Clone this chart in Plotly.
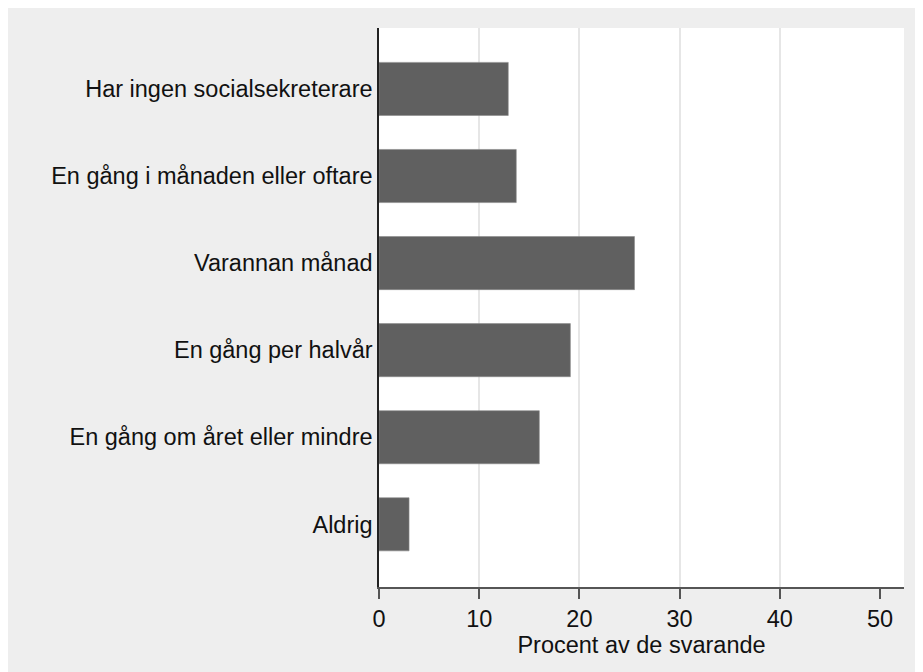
import plotly.graph_objects as go

categories = [
    "Har ingen socialsekreterare",
    "En gång i månaden eller oftare",
    "Varannan månad",
    "En gång per halvår",
    "En gång om året eller mindre",
    "Aldrig",
]
values = [12.9, 13.7, 25.5, 19.1, 16.0, 3.0]
x_ticks = [0, 10, 20, 30, 40, 50]
grid_vals = [10, 20, 30, 40]
x_title = "Procent av de svarande"

FONT = "Liberation Sans, Arial, sans-serif"
FS = 23.5

fig = go.Figure()
fig.add_trace(go.Bar(
    y=categories,
    x=values,
    orientation="h",
    width=0.61,
    marker=dict(color="#606060", line=dict(color="#8a8a8a", width=0.6)),
    hoverinfo="x+y",
))

fig.update_layout(
    width=923,
    height=672,
    paper_bgcolor="#eeeeee",
    plot_bgcolor="white",
    margin=dict(l=371, r=27, t=20, b=93),
    showlegend=False,
    font=dict(family=FONT, size=FS, color="#111111"),
)

fig.update_xaxes(
    range=[0, 52.4],
    tickvals=x_ticks,
    ticktext=[str(v) for v in x_ticks],
    showgrid=False,
    zeroline=False,
    showline=True,
    linecolor="#555555",
    linewidth=2,
    ticks="outside",
    ticklen=10,
    tickwidth=2,
    tickcolor="#555555",
    tickfont=dict(size=FS, color="#111111"),
    minor=dict(tickvals=grid_vals, showgrid=True, gridcolor="#e6e6e6",
               gridwidth=2, ticks=""),
    title=dict(text=x_title, font=dict(size=FS, color="#111111"), standoff=0),
)

fig.update_yaxes(
    type="category",
    range=[5.72, -0.70],
    showgrid=False,
    zeroline=False,
    showline=True,
    linecolor="#222222",
    linewidth=1.5,
    ticks="",
    ticklabelstandoff=0,
    tickfont=dict(size=FS, color="#111111"),
)

fig.write_html("out.html")
